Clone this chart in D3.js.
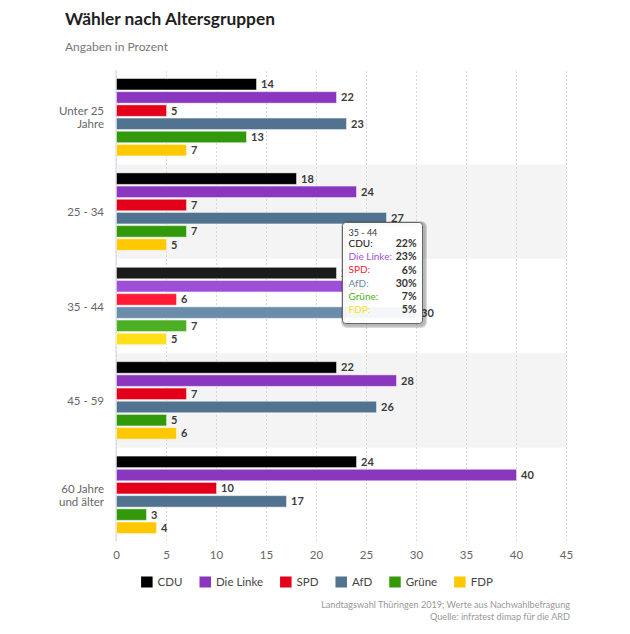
<!DOCTYPE html>
<html>
<head>
<meta charset="utf-8">
<script src="https://cdn.jsdelivr.net/npm/d3@7"></script>
<style>
  html, body { margin: 0; padding: 0; background: #fff; }
  svg { display: block; font-family: Lato, "Open Sans", sans-serif; }
</style>
</head>
<body>
<svg id="chart" width="630" height="634"></svg>
<script>
// ---- data ----
const groups = ["Unter 25 Jahre", "25 - 34", "35 - 44", "45 - 59", "60 Jahre und älter"];
const groupLines = [["Unter 25", "Jahre"], ["25 - 34"], ["35 - 44"], ["45 - 59"], ["60 Jahre", "und älter"]];
const series = ["CDU", "Die Linke", "SPD", "AfD", "Grüne", "FDP"];
const CDU      = [14, 18, 22, 22, 24];
const DieLinke = [22, 24, 23, 28, 40];
const SPD      = [5, 7, 6, 7, 10];
const AfD      = [23, 27, 30, 26, 17];
const Gruene   = [13, 7, 7, 5, 3];
const FDP      = [7, 5, 5, 6, 4];
const xTicks = [0, 5, 10, 15, 20, 25, 30, 35, 40, 45];
const hoveredGroup = 2;

const values = [CDU, DieLinke, SPD, AfD, Gruene, FDP];
const colors = ["#000000", "#8a36bf", "#e2001a", "#52738f", "#329a0a", "#ffc800"];
const hoverColors = ["#1a1a1a", "#9e4fd8", "#ff1a36", "#6b8dab", "#4caf24", "#ffdf1a"];

const svg = d3.select("#chart");

// ---- scales ----
const x = d3.scaleLinear().domain([0, 45]).range([116, 566]);
const yG = d3.scaleBand().domain(groups).range([70, 542]);
const yS = d3.scaleBand().domain(series).range([8.5, yG.bandwidth() - 8.5]).paddingInner(0.13);

// ---- title ----
function fit(sel, target) {
  const fs = parseFloat(sel.attr("font-size"));
  const w = sel.node().getComputedTextLength();
  sel.attr("font-size", (fs * target / w).toFixed(2));
}
const title = svg.append("text").attr("x", 65).attr("y", 25).attr("font-size", 17)
  .attr("font-weight", "bold").attr("fill", "#1e1e1e").text("Wähler nach Altersgruppen");
fit(title, 210);
const sub = svg.append("text").attr("x", 65).attr("y", 50.5).attr("font-size", 12)
  .attr("fill", "#777").text("Angaben in Prozent");
fit(sub, 103);

// ---- alternating bands ----
svg.append("g").selectAll("rect").data(groups.filter((g, i) => i % 2 === 1)).join("rect")
  .attr("x", x(0)).attr("width", x(45) - x(0))
  .attr("y", d => yG(d)).attr("height", yG.bandwidth())
  .attr("fill", "#f4f4f4");

// ---- grid ----
const grid = svg.append("g").attr("transform", `translate(0,541)`)
  .call(d3.axisBottom(x).tickValues(xTicks).tickSize(-471).tickFormat(""));
grid.select(".domain").remove();
grid.selectAll("line").attr("stroke", "#d8d8d8").attr("stroke-dasharray", "2,2");

// axis line
svg.append("line").attr("x1", x(0)).attr("x2", x(0)).attr("y1", 70).attr("y2", 541)
  .attr("stroke", "#ccd6eb");

// ---- x tick labels ----
const xa = svg.append("g").attr("transform", `translate(0,541)`)
  .call(d3.axisBottom(x).tickValues(xTicks).tickSize(0).tickPadding(10));
xa.select(".domain").remove();
xa.selectAll("text").attr("fill", "#666").attr("font-size", 11.5).attr("font-family", "Lato, sans-serif");

// ---- category labels ----
const cat = svg.append("g");
groups.forEach((g, i) => {
  const lines = groupLines[i];
  const cy = yG(g) + yG.bandwidth() / 2 + 0.5;
  const lh = 12.7;
  lines.forEach((ln, j) => {
    cat.append("text").attr("x", 104).attr("y", cy + (j - (lines.length - 1) / 2) * lh)
      .attr("dy", "0.35em").attr("text-anchor", "end").attr("font-size", 11.5)
      .attr("fill", "#666").text(ln);
  });
});

// ---- bars ----
const barsG = svg.append("g");
const labelsG = svg.append("g");
groups.forEach((g, gi) => {
  series.forEach((s, si) => {
    const v = values[si][gi];
    const y0 = yG(g) + yS(s);
    const hov = gi === hoveredGroup;
    barsG.append("rect")
      .attr("x", x(0) + 0.5).attr("y", y0)
      .attr("width", x(v) - x(0)).attr("height", yS.bandwidth())
      .attr("fill", hov ? hoverColors[si] : colors[si])
      .attr("stroke", "rgba(255,255,255,0.45)").attr("stroke-width", 1);
    labelsG.append("text")
      .attr("x", x(v) + 5).attr("y", y0 + yS.bandwidth() / 2)
      .attr("dy", "0.36em").attr("font-size", 11).attr("font-weight", "bold")
      .attr("fill", "#3a3a3a").text(v);
  });
});

// ---- legend ----
const legend = svg.append("g");
let lx = 0;
series.forEach((s, i) => {
  const it = legend.append("g");
  it.append("rect").attr("x", 0).attr("y", 576.5).attr("width", 11.5).attr("height", 11)
    .attr("fill", colors[i]);
  const t = it.append("text").attr("x", 16.5).attr("y", 582).attr("dy", "0.35em")
    .attr("font-size", 11.5).attr("fill", "#444").text(s);
  const w = 16.5 + t.node().getComputedTextLength();
  it.attr("transform", `translate(${lx},0)`);
  lx += w + 17;
});
const totalW = lx - 17;
legend.attr("transform", `translate(${(317 - totalW / 2).toFixed(1)},0)`);

// ---- footer ----
const f1 = svg.append("text").attr("x", 570).attr("y", 605).attr("dy", "0.35em").attr("text-anchor", "end")
  .attr("font-size", 10).attr("fill", "#999").text("Landtagswahl Thüringen 2019; Werte aus Nachwahlbefragung");
fit(f1, 249);
const f2 = svg.append("text").attr("x", 570).attr("y", 616.5).attr("dy", "0.35em").attr("text-anchor", "end")
  .attr("font-size", f1.attr("font-size")).attr("fill", "#999").text("Quelle: infratest dimap für die ARD");

// ---- tooltip ----
const tip = svg.append("g").attr("transform", "translate(342.5,222.5)");
const tw = 80, th = 101;
[3, 2, 1].forEach(k => {
  tip.append("rect").attr("x", 1).attr("y", 1).attr("width", tw).attr("height", th).attr("rx", 3)
    .attr("fill", "none").attr("stroke", "#000").attr("stroke-opacity", 0.05 * k)
    .attr("stroke-width", k * 2).attr("transform", "translate(0.5,0.5)");
});
tip.append("rect").attr("width", tw).attr("height", th).attr("rx", 3)
  .attr("fill", "rgba(255,255,255,0.93)").attr("stroke", "#666").attr("stroke-width", 1);
tip.append("text").attr("x", 6).attr("y", 10.5).attr("dy", "0.35em").attr("font-size", 9)
  .attr("fill", "#333").text(groups[hoveredGroup]);
series.forEach((s, i) => {
  const ry = 21 + i * 13.2;
  tip.append("text").attr("x", 6).attr("y", ry).attr("dy", "0.35em").attr("font-size", 10)
    .attr("fill", i === 0 ? "#111" : hoverColors[i]).text(s + ":");
  tip.append("text").attr("x", 74).attr("y", ry).attr("dy", "0.35em").attr("font-size", 10.5)
    .attr("font-weight", "bold").attr("text-anchor", "end").attr("fill", "#333")
    .text(values[i][hoveredGroup] + "%");
});
</script>
</body>
</html>
